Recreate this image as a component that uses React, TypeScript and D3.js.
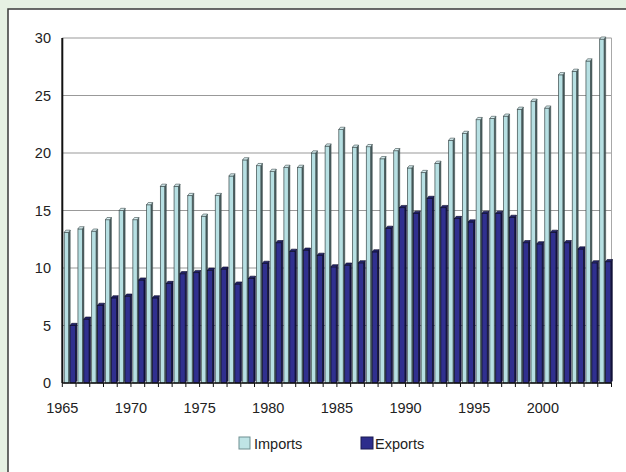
import React from 'react';
import * as d3 from 'd3';

const years = [
  1965, 1966, 1967, 1968, 1969, 1970, 1971, 1972, 1973, 1974,
  1975, 1976, 1977, 1978, 1979, 1980, 1981, 1982, 1983, 1984,
  1985, 1986, 1987, 1988, 1989, 1990, 1991, 1992, 1993, 1994,
  1995, 1996, 1997, 1998, 1999, 2000, 2001, 2002, 2003, 2004,
];
const importsValues = [
  13.1, 13.4, 13.2, 14.2, 15.0, 14.2, 15.5, 17.1, 17.1, 16.3,
  14.5, 16.3, 18.0, 19.4, 18.9, 18.4, 18.75, 18.75, 20.0, 20.6,
  22.05, 20.5, 20.55, 19.5, 20.2, 18.7, 18.3, 19.1, 21.1, 21.7,
  22.9, 23.0, 23.2, 23.8, 24.5, 23.9, 26.8, 27.1, 28.0, 29.9,
];
const exportsValues = [
  5.0, 5.55, 6.75, 7.4, 7.55, 8.95, 7.4, 8.65, 9.5, 9.6,
  9.8, 9.9, 8.6, 9.1, 10.4, 12.2, 11.45, 11.55, 11.1, 10.1,
  10.25, 10.45, 11.4, 13.45, 15.25, 14.75, 16.05, 15.25, 14.3, 14.0,
  14.75, 14.75, 14.4, 12.2, 12.1, 13.1, 12.2, 11.65, 10.45, 10.55,
];
const yTicks = [0, 5, 10, 15, 20, 25, 30];
const xLabelYears = [1965, 1970, 1975, 1980, 1985, 1990, 1995, 2000];
const seriesNames = ['Imports', 'Exports'];

const FONT = '"Liberation Sans", Arial, sans-serif';

export default function App() {
  const W = 626, H = 472;
  const left = 62.3, right = 611.5, top = 38, bottom = 383;
  const x = d3.scaleBand<number>().domain(years).range([left, right]).paddingInner(0).paddingOuter(0);
  const y = d3.scaleLinear().domain([0, 30]).range([bottom, top]);
  const bw = x.bandwidth();
  const dx = 1.6, dy = -2.2;

  const impX0 = 0.14 * bw, impW = 0.32 * bw;
  const sideW = 0.11 * bw;
  const expX0 = impX0 + impW + sideW, expW = 0.38 * bw;

  const poly = (pts: [number, number][]) => pts.map(p => p.join(',')).join(' ');

  const bar = (x0: number, w: number, v: number, c: { front: string; top: string; side: string; stroke: string }, key: string) => {
    const yv = y(v), y0 = y(0);
    return (
      <g key={key}>
        <polygon points={poly([[x0 + w, yv], [x0 + w + dx, yv + dy], [x0 + w + dx, y0 + dy], [x0 + w, y0]])} fill={c.side} stroke={c.stroke} strokeWidth={0.5} />
        <rect x={x0} y={yv} width={w} height={y0 - yv} fill={c.front} stroke={c.stroke} strokeWidth={0.7} />
        <polygon points={poly([[x0, yv], [x0 + dx, yv + dy], [x0 + w + dx, yv + dy], [x0 + w, yv]])} fill={c.top} stroke={c.stroke} strokeWidth={0.6} />
      </g>
    );
  };

  const impColors = { front: '#b7e0e3', top: '#d8eff1', side: '#4a5d5f', stroke: '#3a4a4b' };
  const expColors = { front: '#30308f', top: '#22226a', side: '#161648', stroke: '#0d0d2a' };

  const xLabelX = (yr: number) => x(yr) as number;

  return (
    <svg width={W} height={H} style={{ position: 'absolute', left: 0, top: 0 }} fontFamily={FONT}>
      <rect x={0} y={0} width={W} height={H} fill="#e6f1e3" />
      <rect x={8} y={9} width={W} height={H} fill="#ffffff" stroke="#3a3a3a" strokeWidth={1.5} />

      {/* gridlines */}
      {yTicks.filter(t => t > 0).map(t => (
        <line key={'g' + t} x1={left} x2={right} y1={y(t)} y2={y(t)} stroke="#999999" strokeWidth={1.2} />
      ))}
      <line x1={right} x2={right} y1={y(30)} y2={y(0)} stroke="#a8a8a8" strokeWidth={1} />

      {/* bars */}
      {years.map((yr, i) => bar((x(yr) as number) + impX0, impW, importsValues[i], impColors, 'i' + yr))}
      {years.map((yr, i) => bar((x(yr) as number) + expX0, expW, exportsValues[i], expColors, 'e' + yr))}

      {/* axes */}
      <line x1={left} x2={left} y1={y(30)} y2={y(0)} stroke="#111" strokeWidth={2} />
      <line x1={left} x2={right} y1={y(0)} y2={y(0)} stroke="#111" strokeWidth={1.5} />
      {years.map(yr => (
        <line key={'t' + yr} x1={x(yr) as number} x2={x(yr) as number} y1={y(0)} y2={y(0) + 4} stroke="#111" strokeWidth={1} />
      ))}
      <line x1={right} x2={right} y1={y(0)} y2={y(0) + 4} stroke="#111" strokeWidth={1} />

      {yTicks.map(t => (
        <text key={'yl' + t} x={51} y={y(t)} dy="0.35em" textAnchor="end" fontSize={14.5} fill="#222">{t}</text>
      ))}
      {xLabelYears.map(yr => (
        <text key={'xl' + yr} x={xLabelX(yr)} y={413} textAnchor="middle" fontSize={14.5} fill="#222">{yr}</text>
      ))}

      {/* legend */}
      <g>
        <rect x={239} y={437} width={11} height={12} fill="#bfe4e6" stroke="#6f8f91" strokeWidth={1} />
        <text x={254} y={448.5} fontSize={14.5} fill="#222">{seriesNames[0]}</text>
        <rect x={361} y={437} width={12} height={12} fill="#2d2d8c" stroke="#1a1a50" strokeWidth={1} />
        <text x={375} y={448.5} fontSize={14.5} fill="#222">{seriesNames[1]}</text>
      </g>
    </svg>
  );
}
